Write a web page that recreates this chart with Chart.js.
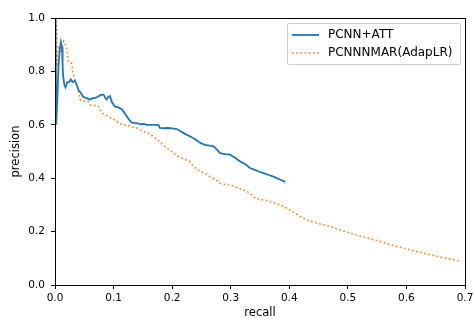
<!DOCTYPE html>
<html>
<head>
<meta charset="utf-8">
<script src="https://cdn.jsdelivr.net/npm/chart.js@4"></script>
<style>
  html, body { margin: 0; padding: 0; background: #fff; }
  #wrap { width: 475px; height: 320px; }
</style>
</head>
<body>
<div id="wrap"><canvas id="grafico"></canvas></div>
<script>
const etiquetas = ["PCNN+ATT", "PCNNNMAR(AdapLR)"]
const ticksX = [0.0, 0.1, 0.2, 0.3, 0.4, 0.5, 0.6, 0.7]
const ticksY = [0.0, 0.2, 0.4, 0.6, 0.8, 1.0]

// PCNN+ATT
const recallAtt = [0.001, 0.002, 0.004, 0.006, 0.008, 0.010, 0.012, 0.013, 0.014, 0.016, 0.018, 0.021, 0.024, 0.027, 0.030,
  0.034, 0.037, 0.040, 0.044, 0.048, 0.054, 0.060, 0.064, 0.068, 0.073, 0.078, 0.083, 0.086, 0.088, 0.091, 0.094, 0.097,
  0.100, 0.103, 0.108, 0.114, 0.120, 0.126, 0.131, 0.136, 0.140, 0.146, 0.152, 0.157, 0.162, 0.170, 0.177, 0.179, 0.186,
  0.193, 0.200, 0.208, 0.215, 0.222, 0.231, 0.240, 0.248, 0.256, 0.264, 0.271, 0.276, 0.282, 0.290, 0.299, 0.308, 0.316,
  0.325, 0.333, 0.340, 0.348, 0.356, 0.365, 0.373, 0.383, 0.393]
const precisionAtt = [1.0, 0.60, 0.70, 0.82, 0.88, 0.91, 0.89, 0.82, 0.78, 0.75, 0.74, 0.76, 0.76, 0.77, 0.76,
  0.765, 0.75, 0.73, 0.72, 0.705, 0.70, 0.695, 0.70, 0.70, 0.705, 0.712, 0.713, 0.70, 0.695, 0.705, 0.707, 0.685,
  0.675, 0.668, 0.665, 0.658, 0.64, 0.62, 0.608, 0.607, 0.606, 0.602, 0.603, 0.600, 0.600, 0.600, 0.599, 0.588, 0.587,
  0.588, 0.587, 0.584, 0.575, 0.566, 0.556, 0.545, 0.532, 0.525, 0.522, 0.519, 0.508, 0.494, 0.490, 0.488, 0.476, 0.463,
  0.452, 0.438, 0.432, 0.425, 0.419, 0.412, 0.406, 0.396, 0.386]

// PCNNNMAR(AdapLR)
const recallNmar = [0.002, 0.003, 0.003, 0.004, 0.006, 0.009, 0.011, 0.013, 0.015, 0.017, 0.019, 0.021, 0.023, 0.026,
  0.028, 0.030, 0.031, 0.034, 0.037, 0.040, 0.043, 0.048, 0.053, 0.057, 0.060, 0.067, 0.074, 0.077, 0.080, 0.085, 0.091,
  0.097, 0.103, 0.111, 0.117, 0.123, 0.134, 0.140, 0.151, 0.157, 0.165, 0.174, 0.182, 0.191, 0.200, 0.207, 0.214, 0.222,
  0.230, 0.236, 0.242, 0.248, 0.256, 0.265, 0.274, 0.282, 0.290, 0.299, 0.310, 0.320, 0.328, 0.335, 0.342, 0.352, 0.362,
  0.374, 0.385, 0.398, 0.407, 0.418, 0.430, 0.450, 0.470, 0.487, 0.504, 0.530, 0.556, 0.575, 0.595, 0.618, 0.641, 0.665, 0.689]
const precisionNmar = [0.99, 0.95, 0.82, 0.86, 0.888, 0.882, 0.87, 0.90, 0.913, 0.905, 0.894, 0.87, 0.838, 0.835,
  0.832, 0.81, 0.794, 0.769, 0.75, 0.732, 0.694, 0.688, 0.688, 0.688, 0.675, 0.672, 0.669, 0.657, 0.644, 0.638, 0.632,
  0.622, 0.618, 0.603, 0.600, 0.599, 0.590, 0.588, 0.575, 0.572, 0.56, 0.546, 0.53, 0.513, 0.498, 0.486, 0.478, 0.470,
  0.462, 0.445, 0.435, 0.425, 0.418, 0.406, 0.395, 0.381, 0.377, 0.375, 0.365, 0.357, 0.350, 0.340, 0.325, 0.320, 0.316,
  0.308, 0.300, 0.285, 0.272, 0.258, 0.243, 0.230, 0.219, 0.206, 0.194, 0.178, 0.163, 0.150, 0.138, 0.125, 0.113, 0.101, 0.091]

const puntos = (xs, ys) => xs.map((x, i) => ({ x: x, y: ys[i] }))

const fuente = "'DejaVu Sans'"

// marco completo y leyenda al estilo matplotlib
const marco = {
  id: "marco",
  afterDatasetsDraw(chart) {
    const { ctx, chartArea: a } = chart
    ctx.save()
    ctx.strokeStyle = "#000"
    ctx.lineWidth = 1
    ctx.strokeRect(Math.round(a.left) + 0.5, Math.round(a.top) + 0.5, Math.round(a.right - a.left), Math.round(a.bottom - a.top))

    // leyenda
    const x0 = a.right - 178, y0 = a.top + 5, w = 173, h = 41
    ctx.fillStyle = "rgba(255,255,255,0.8)"
    ctx.strokeStyle = "#cccccc"
    ctx.beginPath()
    ctx.roundRect(x0 + 0.5, y0 + 0.5, w, h, 2)
    ctx.fill()
    ctx.stroke()
    ctx.font = "12px " + fuente
    ctx.textBaseline = "middle"
    chart.data.datasets.forEach((ds, i) => {
      const yy = y0 + 12 + i * 18
      ctx.strokeStyle = ds.borderColor
      ctx.lineWidth = ds.borderWidth
      ctx.setLineDash(ds.borderDash || [])
      ctx.beginPath()
      ctx.moveTo(x0 + 5, yy)
      ctx.lineTo(x0 + 32, yy)
      ctx.stroke()
      ctx.setLineDash([])
      ctx.fillStyle = "#000"
      ctx.fillText(ds.label, x0 + 41, yy)
    })
    ctx.restore()
  }
}

const grafico = document.getElementById("grafico")

new Chart(grafico, {
  type: "line",
  data: {
    datasets: [
      {
        label: etiquetas[0],
        data: puntos(recallAtt, precisionAtt),
        borderColor: "#1f77b4",
        borderWidth: 1.8,
        pointRadius: 0,
        tension: 0,
      },
      {
        label: etiquetas[1],
        data: puntos(recallNmar, precisionNmar),
        borderColor: "#ff7f0e",
        borderWidth: 1.6,
        borderDash: [1.6, 2.6],
        borderCapStyle: "butt",
        pointRadius: 0,
        tension: 0,
      },
    ],
  },
  options: {
    responsive: true,
    maintainAspectRatio: false,
    animation: false,
    layout: { padding: { top: 18, right: 10, left: 0, bottom: 0 } },
    plugins: {
      legend: { display: false },
      tooltip: { enabled: false },
    },
    scales: {
      x: {
        type: "linear",
        min: 0,
        max: 0.7,
        afterBuildTicks: (eje) => { eje.ticks = ticksX.map(v => ({ value: v })) },
        afterFit: (eje) => { eje.height = 35; eje.paddingLeft = 0; eje.paddingRight = 0 },
        ticks: {
          callback: (v) => v.toFixed(1),
          color: "#000",
          font: { family: fuente, size: 10.5 },
          padding: 3,
          maxRotation: 0,
        },
        grid: { drawOnChartArea: false, tickLength: 4, color: "#000" },
        border: { display: true, color: "#000" },
        title: {
          display: true,
          text: "recall",
          color: "#000",
          font: { family: fuente, size: 11.5 },
          padding: { top: 0, bottom: 0 },
        },
      },
      y: {
        min: 0,
        max: 1,
        afterBuildTicks: (eje) => { eje.ticks = ticksY.map(v => ({ value: v })) },
        afterFit: (eje) => { eje.width = 55; eje.paddingTop = 0; eje.paddingBottom = 0 },
        ticks: {
          callback: (v) => v.toFixed(1),
          color: "#000",
          font: { family: fuente, size: 10.5 },
          padding: 6,
        },
        grid: { drawOnChartArea: false, tickLength: 4, color: "#000" },
        border: { display: true, color: "#000" },
        title: {
          display: true,
          text: "precision",
          color: "#000",
          font: { family: fuente, size: 11.5 },
          padding: { top: 9, bottom: 0 },
        },
      },
    },
  },
  plugins: [marco],
})
</script>
</body>
</html>
